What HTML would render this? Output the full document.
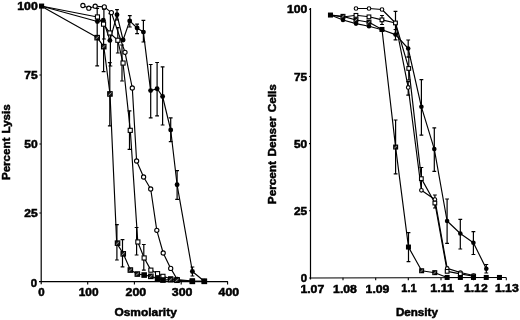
<!DOCTYPE html>
<html><head><meta charset="utf-8"><title>Osmotic fragility and density</title>
<style>html,body{margin:0;padding:0;background:#fff}svg{display:block}text{font-family:"Liberation Sans",sans-serif;font-weight:bold;fill:#000;stroke:#000;stroke-width:0.5px}</style>
</head><body>
<svg width="520" height="320" viewBox="0 0 520 320">
<rect width="520" height="320" fill="#fff"/>
<path d="M41.2 5.5V284.2M39 281.6H227.9" fill="none" stroke="#000" stroke-width="1.2"/>
<path d="M87.7 281.6V284.4M134.4 281.6V284.4M181.2 281.6V284.4M227.6 281.6V284.4M39.4 6.0H41M39.4 75.0H41M39.4 144.0H41M39.4 213.0H41" fill="none" stroke="#000" stroke-width="1.1"/>
<path d="M310.5 8V279.4M309.2 278L506.4 277.5" fill="none" stroke="#000" stroke-width="1.2"/>
<path d="M343.0 277.8V280.2M375.7 277.8V280.2M408.3 277.8V280.2M441.0 277.8V280.2M473.6 277.8V280.2M506.3 277.8V280.2M309 9.3H310.6M309 76.5H310.6M309 143.6H310.6M309 210.7H310.6" fill="none" stroke="#000" stroke-width="1.1"/>
<text x="37.7" y="10.1" font-size="10.8" text-anchor="end" textLength="20.4" lengthAdjust="spacingAndGlyphs">100</text>
<text x="37.7" y="79.4" font-size="10.8" text-anchor="end" textLength="13.4" lengthAdjust="spacingAndGlyphs">75</text>
<text x="37.7" y="148.2" font-size="10.8" text-anchor="end" textLength="13.4" lengthAdjust="spacingAndGlyphs">50</text>
<text x="37.7" y="217.2" font-size="10.8" text-anchor="end" textLength="13.4" lengthAdjust="spacingAndGlyphs">25</text>
<text x="37" y="286.8" font-size="10.8" text-anchor="end" textLength="6.3" lengthAdjust="spacingAndGlyphs">0</text>
<text x="41.5" y="296.0" font-size="10.8" text-anchor="middle" textLength="6.4" lengthAdjust="spacingAndGlyphs">0</text>
<text x="88.6" y="296.2" font-size="10.8" text-anchor="middle" textLength="19.8" lengthAdjust="spacingAndGlyphs">100</text>
<text x="135.9" y="296.2" font-size="10.8" text-anchor="middle" textLength="20.6" lengthAdjust="spacingAndGlyphs">200</text>
<text x="182.1" y="296.2" font-size="10.8" text-anchor="middle" textLength="20.6" lengthAdjust="spacingAndGlyphs">300</text>
<text x="228.8" y="296.2" font-size="10.8" text-anchor="middle" textLength="20.4" lengthAdjust="spacingAndGlyphs">400</text>
<text x="145.6" y="315.9" font-size="11.1" text-anchor="middle" textLength="62.4" lengthAdjust="spacingAndGlyphs">Osmolarity</text>
<text transform="translate(9.6 142.2) rotate(-90)" font-size="11.4" text-anchor="middle" textLength="75.8" lengthAdjust="spacingAndGlyphs" style="word-spacing:0.9px">Percent Lysis</text>
<text x="307.2" y="13.3" font-size="10.8" text-anchor="end" textLength="20.2" lengthAdjust="spacingAndGlyphs">100</text>
<text x="307.2" y="80.5" font-size="10.8" text-anchor="end" textLength="13.2" lengthAdjust="spacingAndGlyphs">75</text>
<text x="307.2" y="148.0" font-size="10.8" text-anchor="end" textLength="13.2" lengthAdjust="spacingAndGlyphs">50</text>
<text x="307.2" y="215.4" font-size="10.8" text-anchor="end" textLength="13.2" lengthAdjust="spacingAndGlyphs">25</text>
<text x="307.0" y="281.8" font-size="10.8" text-anchor="end" textLength="6.3" lengthAdjust="spacingAndGlyphs">0</text>
<text x="312.3" y="292.9" font-size="10.8" text-anchor="middle" textLength="23.8" lengthAdjust="spacingAndGlyphs">1.07</text>
<text x="345.0" y="292.7" font-size="10.8" text-anchor="middle" textLength="23.8" lengthAdjust="spacingAndGlyphs">1.08</text>
<text x="377.5" y="292.5" font-size="10.8" text-anchor="middle" textLength="23.8" lengthAdjust="spacingAndGlyphs">1.09</text>
<text x="409.0" y="292.3" font-size="10.8" text-anchor="middle" textLength="15.4" lengthAdjust="spacingAndGlyphs">1.1</text>
<text x="442.1" y="292.1" font-size="10.8" text-anchor="middle" textLength="23.8" lengthAdjust="spacingAndGlyphs">1.11</text>
<text x="475.8" y="292.0" font-size="10.8" text-anchor="middle" textLength="23.8" lengthAdjust="spacingAndGlyphs">1.12</text>
<text x="506.8" y="291.8" font-size="10.8" text-anchor="middle" textLength="23.8" lengthAdjust="spacingAndGlyphs">1.13</text>
<text x="416.9" y="315.6" font-size="10.9" text-anchor="middle" textLength="42.0" lengthAdjust="spacingAndGlyphs">Density</text>
<text transform="translate(275.8 144.2) rotate(-90)" font-size="11.4" text-anchor="middle" textLength="120" lengthAdjust="spacingAndGlyphs" style="word-spacing:1.2px">Percent Denser Cells</text>
<path d="M97.2 8.4V65.9M95.3 8.4H99.1M95.3 65.9H99.1" fill="none" stroke="#000" stroke-width="1.2"/>
<path d="M103.6 21.3V71.7M101.7 21.3H105.5M101.7 71.7H105.5" fill="none" stroke="#000" stroke-width="1.2"/>
<path d="M109.8 62.6V125.8M107.9 62.6H111.7M107.9 125.8H111.7" fill="none" stroke="#000" stroke-width="1.2"/>
<path d="M116.9 224.6V260.0M115.0 224.6H118.8M115.0 260.0H118.8" fill="none" stroke="#000" stroke-width="1.2"/>
<path d="M122.5 239.6V266.8M120.6 239.6H124.4M120.6 266.8H124.4" fill="none" stroke="#000" stroke-width="1.2"/>
<path d="M103.9 9.2V39.0M102.0 9.2H105.8M102.0 39.0H105.8" fill="none" stroke="#000" stroke-width="1.2"/>
<path d="M117.8 27.6V53.0M115.9 27.6H119.7M115.9 53.0H119.7" fill="none" stroke="#000" stroke-width="1.2"/>
<path d="M122.0 45.0V81.0M120.1 45.0H123.9M120.1 81.0H123.9" fill="none" stroke="#000" stroke-width="1.2"/>
<path d="M129.5 110.8V149.4M127.6 110.8H131.4M127.6 149.4H131.4" fill="none" stroke="#000" stroke-width="1.2"/>
<path d="M136.6 227.5V255.0M134.7 227.5H138.5M134.7 255.0H138.5" fill="none" stroke="#000" stroke-width="1.2"/>
<path d="M143.8 244.5V270.1M141.9 244.5H145.7M141.9 270.1H145.7" fill="none" stroke="#000" stroke-width="1.2"/>
<path d="M110.4 13.6V66.0M108.5 13.6H112.3M108.5 66.0H112.3" fill="none" stroke="#000" stroke-width="1.2"/>
<path d="M117.0 9.7V20.0M115.1 9.7H118.9M115.1 20.0H118.9" fill="none" stroke="#000" stroke-width="1.2"/>
<path d="M129.8 15.6V27.0M127.9 15.6H131.7M127.9 27.0H131.7" fill="none" stroke="#000" stroke-width="1.2"/>
<path d="M137.1 24.1V33.6M135.2 24.1H139.0M135.2 33.6H139.0" fill="none" stroke="#000" stroke-width="1.2"/>
<path d="M143.4 20.3V42.0M141.5 20.3H145.3M141.5 42.0H145.3" fill="none" stroke="#000" stroke-width="1.2"/>
<path d="M150.7 64.5V117.8M148.8 64.5H152.6M148.8 117.8H152.6" fill="none" stroke="#000" stroke-width="1.2"/>
<path d="M157.1 62.5V115.9M155.2 62.5H159.0M155.2 115.9H159.0" fill="none" stroke="#000" stroke-width="1.2"/>
<path d="M162.6 66.8V125.0M160.7 66.8H164.5M160.7 125.0H164.5" fill="none" stroke="#000" stroke-width="1.2"/>
<path d="M170.7 117.8V141.6M168.8 117.8H172.6M168.8 141.6H172.6" fill="none" stroke="#000" stroke-width="1.2"/>
<path d="M177.1 170.7V199.4M175.2 170.7H179.0M175.2 199.4H179.0" fill="none" stroke="#000" stroke-width="1.2"/>
<path d="M192.4 267.0V276.0M190.5 267.0H194.3M190.5 276.0H194.3" fill="none" stroke="#000" stroke-width="1.2"/>
<path d="M395.6 120.0V173.9M393.7 120.0H397.5M393.7 173.9H397.5" fill="none" stroke="#000" stroke-width="1.2"/>
<path d="M408.5 232.6V261.7M406.6 232.6H410.4M406.6 261.7H410.4" fill="none" stroke="#000" stroke-width="1.2"/>
<path d="M395.5 29.5V39.8M393.6 29.5H397.4M393.6 39.8H397.4" fill="none" stroke="#000" stroke-width="1.2"/>
<path d="M408.2 40.0V57.0M406.3 40.0H410.1M406.3 57.0H410.1" fill="none" stroke="#000" stroke-width="1.2"/>
<path d="M421.4 79.7V135.1M419.5 79.7H423.3M419.5 135.1H423.3" fill="none" stroke="#000" stroke-width="1.2"/>
<path d="M434.3 127.8V171.4M432.4 127.8H436.2M432.4 171.4H436.2" fill="none" stroke="#000" stroke-width="1.2"/>
<path d="M447.1 199.0V243.3M445.2 199.0H449.0M445.2 243.3H449.0" fill="none" stroke="#000" stroke-width="1.2"/>
<path d="M460.3 219.4V249.0M458.4 219.4H462.2M458.4 249.0H462.2" fill="none" stroke="#000" stroke-width="1.2"/>
<path d="M473.4 231.6V254.5M471.5 231.6H475.3M471.5 254.5H475.3" fill="none" stroke="#000" stroke-width="1.2"/>
<path d="M486.3 264.5V273.0M484.4 264.5H488.2M484.4 273.0H488.2" fill="none" stroke="#000" stroke-width="1.2"/>
<path d="M382.0 15.5V24.5M380.1 15.5H383.9M380.1 24.5H383.9" fill="none" stroke="#000" stroke-width="1.2"/>
<path d="M395.5 11.3V34.7M393.6 11.3H397.4M393.6 34.7H397.4" fill="none" stroke="#000" stroke-width="1.2"/>
<path d="M408.8 57.0V80.0M406.9 57.0H410.7M406.9 80.0H410.7" fill="none" stroke="#000" stroke-width="1.2"/>
<path d="M421.4 167.5V190.0M419.5 167.5H423.3M419.5 190.0H423.3" fill="none" stroke="#000" stroke-width="1.2"/>
<path d="M408.2 81.6V95.2M406.3 81.6H410.1M406.3 95.2H410.1" fill="none" stroke="#000" stroke-width="1.2"/>
<path d="M434.9 195.0V208.0M433.0 195.0H436.8M433.0 208.0H436.8" fill="none" stroke="#000" stroke-width="1.2"/>
<path d="M41.0 6.0 L97.2 37.6 L103.8 46.6 L110.0 93.9 L116.7 243.1 L123.3 253.8 L130.4 270.0 L137.4 274.0 L144.2 275.0 L150.8 276.4 L157.6 278.8 L163.0 280.0 L170.7 279.6 L177.0 280.2 L192.4 281.3 L204.3 281.3" fill="none" stroke="#000" stroke-width="1.15" stroke-linejoin="round"/>
<path d="M41.0 6.0 L97.4 17.0 L103.6 24.2 L109.8 33.0 L117.8 40.3 L123.0 63.0 L130.3 130.4 L137.8 242.0 L144.2 258.0 L150.9 270.1 L157.6 273.6 L163.0 276.4 L170.7 278.8 L177.1 279.6 L192.4 281.0 L204.3 281.3" fill="none" stroke="#000" stroke-width="1.15" stroke-linejoin="round"/>
<path d="M41.0 6.0 L97.4 21.5 L103.3 20.3 L109.9 40.4 L117.0 14.8 L123.1 40.0 L129.7 20.9 L137.1 28.0 L143.4 32.1 L150.6 90.6 L157.1 88.7 L162.6 96.5 L170.7 130.0 L177.1 184.8 L192.4 271.5 L204.3 281.3" fill="none" stroke="#000" stroke-width="1.15" stroke-linejoin="round"/>
<path d="M82.9 5.5 L88.8 8.2 L95.2 6.2 L104.3 6.9 L111.4 12.6 L125.0 52.3 L132.3 88.0 L136.6 161.0 L143.6 177.0 L150.7 189.0 L156.8 230.3 L163.2 253.0 L170.7 268.4 L177.3 279.5" fill="none" stroke="#000" stroke-width="1.15" stroke-linejoin="round"/>
<path d="M330.5 15.0 L343.0 16.4 L356.0 20.0 L369.0 22.2 L382.0 29.5 L395.6 147.1 L408.5 247.1 L421.7 270.8 L434.8 272.7 L447.2 277.5 L460.4 277.5 L473.5 277.5 L486.3 277.5 L499.5 277.5" fill="none" stroke="#000" stroke-width="1.15" stroke-linejoin="round"/>
<path d="M330.5 15.0 L343.0 20.0 L356.0 23.6 L369.0 26.2 L382.0 29.8 L395.5 34.6 L408.2 48.5 L421.4 106.8 L434.3 149.1 L447.1 221.0 L460.3 233.5 L473.4 242.7 L486.3 268.8" fill="none" stroke="#000" stroke-width="1.15" stroke-linejoin="round"/>
<path d="M330.5 15.0 L343.0 17.0 L356.0 15.3 L369.0 16.8 L382.0 19.9 L395.5 23.0 L408.8 68.4 L421.4 178.6 L434.9 203.0 L447.2 271.4 L460.4 273.9 L473.6 276.2" fill="none" stroke="#000" stroke-width="1.15" stroke-linejoin="round"/>
<path d="M356.0 8.5 L369.0 8.5 L382.0 9.5 L395.5 23.0 L408.2 87.4 L421.4 190.3 L434.9 199.5 L447.2 268.4 L460.4 272.5 L473.6 275.5" fill="none" stroke="#000" stroke-width="1.15" stroke-linejoin="round"/>
<circle cx="82.9" cy="5.5" r="2.1" fill="#fff" stroke="#000" stroke-width="1.1"/>
<circle cx="88.8" cy="8.2" r="2.1" fill="#fff" stroke="#000" stroke-width="1.1"/>
<circle cx="95.2" cy="6.2" r="2.1" fill="#fff" stroke="#000" stroke-width="1.1"/>
<circle cx="104.3" cy="6.9" r="2.1" fill="#fff" stroke="#000" stroke-width="1.1"/>
<circle cx="111.4" cy="12.6" r="2.1" fill="#fff" stroke="#000" stroke-width="1.1"/>
<circle cx="125.0" cy="52.3" r="2.1" fill="#fff" stroke="#000" stroke-width="1.1"/>
<circle cx="132.3" cy="88.0" r="2.1" fill="#fff" stroke="#000" stroke-width="1.1"/>
<circle cx="136.6" cy="161.0" r="2.1" fill="#fff" stroke="#000" stroke-width="1.1"/>
<circle cx="143.6" cy="177.0" r="2.1" fill="#fff" stroke="#000" stroke-width="1.1"/>
<circle cx="150.7" cy="189.0" r="2.1" fill="#fff" stroke="#000" stroke-width="1.1"/>
<circle cx="156.8" cy="230.3" r="2.1" fill="#fff" stroke="#000" stroke-width="1.1"/>
<circle cx="163.2" cy="253.0" r="2.1" fill="#fff" stroke="#000" stroke-width="1.1"/>
<circle cx="170.7" cy="268.4" r="2.1" fill="#fff" stroke="#000" stroke-width="1.1"/>
<circle cx="177.3" cy="279.5" r="2.1" fill="#fff" stroke="#000" stroke-width="1.1"/>
<circle cx="97.4" cy="21.5" r="2.45" fill="#000"/>
<circle cx="103.3" cy="20.3" r="2.45" fill="#000"/>
<circle cx="109.9" cy="40.4" r="2.45" fill="#000"/>
<circle cx="117.0" cy="14.8" r="2.45" fill="#000"/>
<circle cx="123.1" cy="40.0" r="2.45" fill="#000"/>
<circle cx="129.7" cy="20.9" r="2.45" fill="#000"/>
<circle cx="137.1" cy="28.0" r="2.45" fill="#000"/>
<circle cx="143.4" cy="32.1" r="2.45" fill="#000"/>
<circle cx="150.6" cy="90.6" r="2.45" fill="#000"/>
<circle cx="157.1" cy="88.7" r="2.45" fill="#000"/>
<circle cx="162.6" cy="96.5" r="2.45" fill="#000"/>
<circle cx="170.7" cy="130.0" r="2.45" fill="#000"/>
<circle cx="177.1" cy="184.8" r="2.45" fill="#000"/>
<circle cx="192.4" cy="271.5" r="2.45" fill="#000"/>
<circle cx="204.3" cy="281.3" r="2.45" fill="#000"/>
<rect x="95.4" y="14.9" width="4.1" height="4.1" fill="#fff" stroke="#000" stroke-width="1.1"/>
<rect x="101.5" y="22.1" width="4.1" height="4.1" fill="#fff" stroke="#000" stroke-width="1.1"/>
<rect x="107.8" y="30.9" width="4.1" height="4.1" fill="#fff" stroke="#000" stroke-width="1.1"/>
<rect x="115.8" y="38.2" width="4.1" height="4.1" fill="#fff" stroke="#000" stroke-width="1.1"/>
<rect x="121.0" y="61.0" width="4.1" height="4.1" fill="#fff" stroke="#000" stroke-width="1.1"/>
<rect x="128.2" y="128.3" width="4.1" height="4.1" fill="#fff" stroke="#000" stroke-width="1.1"/>
<rect x="135.8" y="239.9" width="4.1" height="4.1" fill="#fff" stroke="#000" stroke-width="1.1"/>
<rect x="142.1" y="255.9" width="4.1" height="4.1" fill="#fff" stroke="#000" stroke-width="1.1"/>
<rect x="148.8" y="268.1" width="4.1" height="4.1" fill="#fff" stroke="#000" stroke-width="1.1"/>
<rect x="155.5" y="271.6" width="4.1" height="4.1" fill="#fff" stroke="#000" stroke-width="1.1"/>
<rect x="160.9" y="274.3" width="4.1" height="4.1" fill="#fff" stroke="#000" stroke-width="1.1"/>
<rect x="168.6" y="276.8" width="4.1" height="4.1" fill="#fff" stroke="#000" stroke-width="1.1"/>
<rect x="175.0" y="277.6" width="4.1" height="4.1" fill="#fff" stroke="#000" stroke-width="1.1"/>
<rect x="190.3" y="278.9" width="4.1" height="4.1" fill="#fff" stroke="#000" stroke-width="1.1"/>
<rect x="202.2" y="279.2" width="4.1" height="4.1" fill="#fff" stroke="#000" stroke-width="1.1"/>
<rect x="39.7" y="4.2" width="3.8" height="3.8" fill="#000" stroke="#000" stroke-width="1.3"/>
<rect x="95.0" y="35.5" width="4.3" height="4.3" fill="#222" stroke="#000" stroke-width="1.3"/>
<path d="M95.5 39.0L98.9 36.2" stroke="#999" stroke-width="0.9" fill="none"/>
<rect x="101.6" y="44.5" width="4.3" height="4.3" fill="#222" stroke="#000" stroke-width="1.3"/>
<path d="M102.1 48.0L105.5 45.2" stroke="#999" stroke-width="0.9" fill="none"/>
<rect x="107.8" y="91.8" width="4.3" height="4.3" fill="#222" stroke="#000" stroke-width="1.3"/>
<path d="M108.3 95.4L111.7 92.5" stroke="#999" stroke-width="0.9" fill="none"/>
<rect x="115.4" y="241.0" width="4.3" height="4.3" fill="#222" stroke="#000" stroke-width="1.3"/>
<path d="M115.9 244.7L119.2 241.7" stroke="#999" stroke-width="0.9" fill="none"/>
<rect x="121.1" y="251.7" width="4.3" height="4.3" fill="#222" stroke="#000" stroke-width="1.3"/>
<path d="M121.6 255.3L125.0 252.3" stroke="#999" stroke-width="0.9" fill="none"/>
<rect x="128.2" y="267.9" width="4.3" height="4.3" fill="#222" stroke="#000" stroke-width="1.3"/>
<path d="M128.8 271.4L132.1 268.6" stroke="#999" stroke-width="0.9" fill="none"/>
<rect x="135.2" y="271.9" width="4.3" height="4.3" fill="#222" stroke="#000" stroke-width="1.3"/>
<path d="M135.8 275.4L139.1 272.6" stroke="#999" stroke-width="0.9" fill="none"/>
<rect x="142.0" y="272.9" width="4.3" height="4.3" fill="#000" stroke="#000" stroke-width="1.3"/>
<rect x="148.7" y="274.2" width="4.3" height="4.3" fill="#222" stroke="#000" stroke-width="1.3"/>
<path d="M149.2 277.8L152.5 274.9" stroke="#999" stroke-width="0.9" fill="none"/>
<rect x="155.4" y="276.7" width="4.3" height="4.3" fill="#000" stroke="#000" stroke-width="1.3"/>
<rect x="160.8" y="277.9" width="4.3" height="4.3" fill="#000" stroke="#000" stroke-width="1.3"/>
<rect x="168.5" y="277.5" width="4.3" height="4.3" fill="#222" stroke="#000" stroke-width="1.3"/>
<path d="M169.0 281.1L172.3 278.2" stroke="#999" stroke-width="0.9" fill="none"/>
<rect x="174.8" y="278.1" width="4.3" height="4.3" fill="#222" stroke="#000" stroke-width="1.3"/>
<path d="M175.3 281.6L178.7 278.8" stroke="#999" stroke-width="0.9" fill="none"/>
<rect x="190.2" y="279.2" width="4.3" height="4.3" fill="#000" stroke="#000" stroke-width="1.3"/>
<rect x="202.2" y="279.2" width="4.3" height="4.3" fill="#000" stroke="#000" stroke-width="1.3"/>
<circle cx="356.0" cy="8.5" r="1.8" fill="#fff" stroke="#000" stroke-width="1.1"/>
<circle cx="369.0" cy="8.5" r="1.8" fill="#fff" stroke="#000" stroke-width="1.1"/>
<circle cx="382.0" cy="9.5" r="1.8" fill="#fff" stroke="#000" stroke-width="1.1"/>
<circle cx="395.5" cy="23.0" r="1.8" fill="#fff" stroke="#000" stroke-width="1.1"/>
<circle cx="408.2" cy="87.4" r="1.8" fill="#fff" stroke="#000" stroke-width="1.1"/>
<circle cx="421.4" cy="190.3" r="1.8" fill="#fff" stroke="#000" stroke-width="1.1"/>
<circle cx="434.9" cy="199.5" r="1.8" fill="#fff" stroke="#000" stroke-width="1.1"/>
<circle cx="447.2" cy="268.4" r="1.8" fill="#fff" stroke="#000" stroke-width="1.1"/>
<circle cx="460.4" cy="272.5" r="1.8" fill="#fff" stroke="#000" stroke-width="1.1"/>
<circle cx="473.6" cy="275.5" r="1.8" fill="#fff" stroke="#000" stroke-width="1.1"/>
<circle cx="343.0" cy="20.0" r="2.3" fill="#000"/>
<circle cx="356.0" cy="23.6" r="2.3" fill="#000"/>
<circle cx="369.0" cy="26.2" r="2.3" fill="#000"/>
<circle cx="382.0" cy="29.8" r="2.3" fill="#000"/>
<circle cx="395.5" cy="34.6" r="2.3" fill="#000"/>
<circle cx="408.2" cy="48.5" r="2.3" fill="#000"/>
<circle cx="421.4" cy="106.8" r="2.3" fill="#000"/>
<circle cx="434.3" cy="149.1" r="2.3" fill="#000"/>
<circle cx="447.1" cy="221.0" r="2.3" fill="#000"/>
<circle cx="460.3" cy="233.5" r="2.3" fill="#000"/>
<circle cx="473.4" cy="242.7" r="2.3" fill="#000"/>
<circle cx="486.3" cy="268.8" r="2.3" fill="#000"/>
<rect x="354.1" y="13.5" width="3.7" height="3.7" fill="#fff" stroke="#000" stroke-width="1.1"/>
<rect x="367.1" y="15.0" width="3.7" height="3.7" fill="#fff" stroke="#000" stroke-width="1.1"/>
<rect x="380.1" y="18.0" width="3.7" height="3.7" fill="#fff" stroke="#000" stroke-width="1.1"/>
<rect x="393.6" y="21.1" width="3.7" height="3.7" fill="#fff" stroke="#000" stroke-width="1.1"/>
<rect x="406.9" y="66.6" width="3.7" height="3.7" fill="#fff" stroke="#000" stroke-width="1.1"/>
<rect x="419.5" y="176.8" width="3.7" height="3.7" fill="#fff" stroke="#000" stroke-width="1.1"/>
<rect x="433.0" y="201.2" width="3.7" height="3.7" fill="#fff" stroke="#000" stroke-width="1.1"/>
<rect x="445.3" y="269.5" width="3.7" height="3.7" fill="#fff" stroke="#000" stroke-width="1.1"/>
<rect x="458.5" y="272.0" width="3.7" height="3.7" fill="#fff" stroke="#000" stroke-width="1.1"/>
<rect x="471.8" y="274.3" width="3.7" height="3.7" fill="#fff" stroke="#000" stroke-width="1.1"/>
<rect x="328.6" y="13.2" width="3.7" height="3.7" fill="#000" stroke="#000" stroke-width="1.3"/>
<rect x="341.1" y="14.5" width="3.7" height="3.7" fill="#222" stroke="#000" stroke-width="1.3"/>
<path d="M341.6 17.6L344.4 15.2" stroke="#999" stroke-width="0.9" fill="none"/>
<rect x="354.1" y="18.1" width="3.7" height="3.7" fill="#222" stroke="#000" stroke-width="1.3"/>
<path d="M354.6 21.2L357.4 18.8" stroke="#999" stroke-width="0.9" fill="none"/>
<rect x="367.1" y="20.3" width="3.7" height="3.7" fill="#222" stroke="#000" stroke-width="1.3"/>
<path d="M367.6 23.4L370.4 21.0" stroke="#999" stroke-width="0.9" fill="none"/>
<rect x="380.1" y="27.6" width="3.7" height="3.7" fill="#000" stroke="#000" stroke-width="1.3"/>
<rect x="393.8" y="145.2" width="3.7" height="3.7" fill="#222" stroke="#000" stroke-width="1.3"/>
<path d="M394.2 148.2L397.0 145.9" stroke="#999" stroke-width="0.9" fill="none"/>
<rect x="406.6" y="245.2" width="3.7" height="3.7" fill="#000" stroke="#000" stroke-width="1.3"/>
<rect x="419.8" y="268.9" width="3.7" height="3.7" fill="#222" stroke="#000" stroke-width="1.3"/>
<path d="M420.3 272.0L423.1 269.6" stroke="#999" stroke-width="0.9" fill="none"/>
<rect x="432.9" y="270.8" width="3.7" height="3.7" fill="#222" stroke="#000" stroke-width="1.3"/>
<path d="M433.4 273.9L436.2 271.5" stroke="#999" stroke-width="0.9" fill="none"/>
<rect x="445.3" y="275.6" width="3.7" height="3.7" fill="#000" stroke="#000" stroke-width="1.3"/>
<rect x="458.5" y="275.6" width="3.7" height="3.7" fill="#000" stroke="#000" stroke-width="1.3"/>
<rect x="471.6" y="275.6" width="3.7" height="3.7" fill="#000" stroke="#000" stroke-width="1.3"/>
<rect x="484.4" y="275.6" width="3.7" height="3.7" fill="#000" stroke="#000" stroke-width="1.3"/>
<rect x="497.6" y="275.6" width="3.7" height="3.7" fill="#000" stroke="#000" stroke-width="1.3"/>
</svg></body></html>
